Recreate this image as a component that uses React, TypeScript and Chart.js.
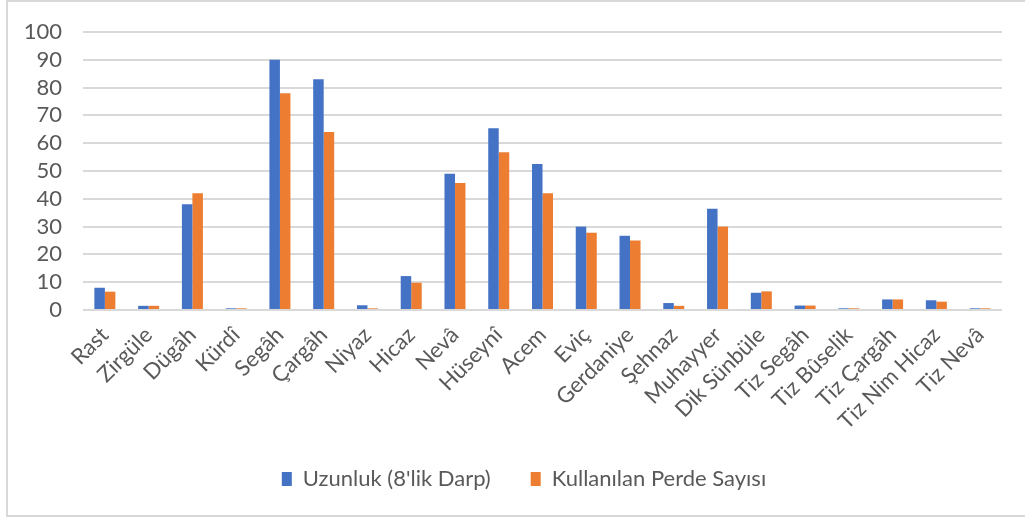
import React, { useEffect, useRef } from "react";
import { Chart, registerables } from "chart.js";

Chart.register(...registerables);

const categories = [
  "Rast", "Zirgüle", "Dügâh", "Kürdî", "Segâh", "Çargâh", "Niyaz", "Hicaz", "Nevâ", "Hüseynî",
  "Acem", "Eviç", "Gerdaniye", "Şehnaz", "Muhayyer", "Dik Sünbüle", "Tiz Segâh", "Tiz Bûselik",
  "Tiz Çargâh", "Tiz Nim Hicaz", "Tiz Nevâ",
];
const uzunluk = [8, 1.5, 38, 0.6, 90, 83, 1.7, 12.2, 49, 65.4, 52.5, 30, 26.7, 2.5, 36.4, 6.2, 1.6, 0.6, 3.8, 3.5, 0.6];
const perdeSayisi = [6.6, 1.5, 42, 0.6, 78, 64, 0.6, 9.8, 45.7, 56.7, 42, 27.8, 25, 1.5, 30, 6.7, 1.6, 0.6, 3.8, 3, 0.6];
const seriesNames = ["Uzunluk (8'lik Darp)", "Kullanılan Perde Sayısı"];
const yMin = 0;
const yMax = 100;
const yStep = 10;

const FONT = "Lato";
const TEXT = "#595959";

const legendShift = {
  id: "legendShift",
  afterLayout(chart: any) {
    const l = chart.legend;
    if (l) {
      l.left += 23;
      l.right += 23;
    }
  },
};

export default function App() {
  const ref = useRef<HTMLCanvasElement>(null);
  useEffect(() => {
    if (!ref.current) return;
    const chart = new Chart(ref.current, {
      type: "bar",
      data: {
        labels: categories,
        datasets: [
          {
            label: seriesNames[0],
            data: uzunluk,
            backgroundColor: "#4472C4",
            borderWidth: 0,
            categoryPercentage: 0.48,
            barPercentage: 1,
          },
          {
            label: seriesNames[1],
            data: perdeSayisi,
            backgroundColor: "#ED7D31",
            borderWidth: 0,
            categoryPercentage: 0.48,
            barPercentage: 1,
          },
        ],
      },
      plugins: [legendShift],
      options: {
        responsive: false,
        animation: false,
        layout: { padding: { left: 0, right: 23, top: 31, bottom: 0 } },
        scales: {
          x: {
            grid: { display: false },
            border: { display: false },
            ticks: {
              autoSkip: false,
              minRotation: 45,
              maxRotation: 45,
              color: TEXT,
              font: { family: FONT, size: 22 },
              padding: 4,
            },
            afterFit: (s: any) => {
              s.height = 118;
            },
          },
          y: {
            min: yMin,
            max: yMax,
            ticks: {
              stepSize: yStep,
              maxTicksLimit: 11,
              color: TEXT,
              font: { family: FONT, size: 22, lineHeight: 1 },
              padding: 21,
            },
            grid: { color: "#d9d9d9", lineWidth: 2, drawTicks: false },
            border: { display: false },
            afterFit: (s: any) => {
              s.width = 83;
            },
          },
        },
        plugins: {
          legend: {
            position: "bottom",
            labels: {
              boxWidth: 10,
              boxHeight: 14,
              color: TEXT,
              font: { family: FONT, size: 22 },
              padding: 40,
            },
          },
          tooltip: { enabled: false },
        },
      },
    });
    return () => chart.destroy();
  }, []);

  return (
    <div
      style={{
        position: "absolute",
        left: 0,
        top: 0,
        width: 1025,
        height: 517,
        overflow: "hidden",
        background: "#ffffff",
      }}
    >
      <div
        style={{
          position: "absolute",
          left: 6,
          top: 0,
          width: 1019,
          height: 517,
          boxSizing: "border-box",
          borderTop: "2px solid #d9d9d9",
          borderLeft: "2px solid #d9d9d9",
          borderBottom: "2px solid #d9d9d9",
        }}
      />
      <canvas
        ref={ref}
        width={1025}
        height={500}
        style={{ position: "absolute", left: 0, top: 0, width: 1025, height: 500 }}
      />
    </div>
  );
}
